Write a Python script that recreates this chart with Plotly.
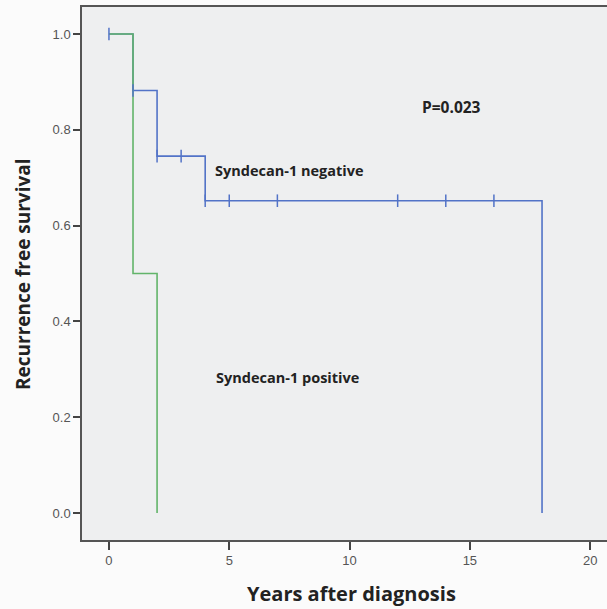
import plotly.graph_objects as go

# Data
neg_times = [0, 1, 2, 4, 18]
neg_surv = [1.0, 0.882, 0.745, 0.652, 0.0]
neg_censor_times = [0, 1, 2, 3, 4, 5, 7, 12, 14, 16]

pos_times = [0, 1, 2]
pos_surv = [1.0, 0.5, 0.0]

x_ticks = [0, 5, 10, 15, 20]
y_ticks = [0.0, 0.2, 0.4, 0.6, 0.8, 1.0]


def step_value(times, surv, t):
    v = surv[0]
    for ti, si in zip(times, surv):
        if ti <= t:
            v = si
    return v


neg_censor_surv = [step_value(neg_times, neg_surv, t) for t in neg_censor_times]

BLUE = "#5273c7"
GREEN = "#62b46a"

fig = go.Figure()
fig.add_trace(go.Scatter(x=neg_times, y=neg_surv, mode="lines",
                         line=dict(color=BLUE, width=1.6, shape="hv"),
                         hoverinfo="skip", showlegend=False))
fig.add_trace(go.Scatter(x=pos_times, y=pos_surv, mode="lines",
                         line=dict(color=GREEN, width=1.6, shape="hv"),
                         hoverinfo="skip", showlegend=False))
fig.add_trace(go.Scatter(x=neg_censor_times, y=neg_censor_surv, mode="markers",
                         marker=dict(symbol="line-ns", size=9,
                                     line=dict(color=BLUE, width=1.5)),
                         hoverinfo="skip", showlegend=False))

L, R, T, B = 82, 0, 7, 69
W, H = 607, 609
pw = W - L - R
ph = H - T - B

ann_font = dict(family="Open Sans", size=14.5, color="#222222")
p_font = dict(family="Open Sans", size=15.5, color="#222222")
xtitle_font = dict(family="Open Sans", size=20, color="#222222")
ytitle_font = dict(family="Open Sans", size=19, color="#222222")
tick_font = dict(family="Liberation Sans", size=13, color="#555555")

fig.update_layout(
    width=W, height=H,
    margin=dict(l=L, r=R, t=T, b=B),
    paper_bgcolor="#fbfbfb",
    plot_bgcolor="#eeeff0",
    hovermode=False,
    xaxis=dict(range=[-1.12, 20.7], tickvals=x_ticks, ticks="outside",
               ticklen=8, tickwidth=1.5, tickcolor="#444444",
               showline=True, linecolor="#555555", linewidth=1.5, mirror=True,
               showgrid=False, zeroline=False, tickfont=tick_font),
    yaxis=dict(range=[-0.0564, 1.0564], tickvals=y_ticks, tickformat=".1f",
               ticks="outside", ticklen=7, tickwidth=1.5, tickcolor="#444444",
               showline=True, linecolor="#555555", linewidth=1.5,
               showgrid=False, zeroline=False, tickfont=tick_font),
    annotations=[
        dict(text="<b>P=0.023</b>", x=14.25, y=0.848, xref="x", yref="y",
             showarrow=False, xanchor="center", yanchor="middle", font=p_font),
        dict(text="<b>Syndecan-1 negative</b>", x=4.32, y=0.715, xref="x", yref="y",
             showarrow=False, xanchor="left", yanchor="middle", font=ann_font),
        dict(text="<b>Syndecan-1 positive</b>", x=4.37, y=0.282, xref="x", yref="y",
             showarrow=False, xanchor="left", yanchor="middle", font=ann_font),
        dict(text="<b>Years after diagnosis</b>", x=(351 - L) / pw, y=(ph + T - 593) / ph,
             xref="paper", yref="paper", showarrow=False, xanchor="center",
             yanchor="middle", font=xtitle_font),
        dict(text="<b>Recurrence free survival</b>", x=(23 - L) / pw, y=(ph + T - 274) / ph,
             xref="paper", yref="paper", showarrow=False, xanchor="center",
             yanchor="middle", textangle=-90, font=ytitle_font),
    ],
)

fig.write_html("out.html",
               config={"displayModeBar": False},
               post_script="document.body.style.margin='0';document.body.style.padding='0';")
